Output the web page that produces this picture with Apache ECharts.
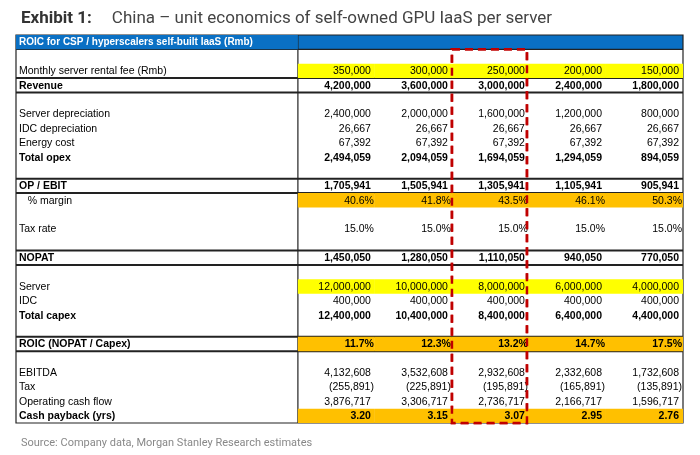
<!DOCTYPE html>
<html>
<head>
<meta charset="utf-8">
<script src="https://cdn.jsdelivr.net/npm/echarts@6/dist/echarts.min.js"></script>
<style>html,body{margin:0;padding:0;background:#fff}#chart{width:700px;height:455px}</style>
</head>
<body>
<div id="chart"></div>
<script>
// table data
var rowLabels = ['ROIC for CSP / hyperscalers self-built IaaS (Rmb)', '', 'Monthly server rental fee (Rmb)', 'Revenue', '',
  'Server depreciation', 'IDC depreciation', 'Energy cost', 'Total opex', '',
  'OP / EBIT', '   % margin', '', 'Tax rate', '', 'NOPAT', '',
  'Server', 'IDC', 'Total capex', '', 'ROIC (NOPAT / Capex)', '',
  'EBITDA', 'Tax', 'Operating cash flow', 'Cash payback (yrs)'];
var rentalFee = ['350,000', '300,000', '250,000', '200,000', '150,000'];
var revenue = ['4,200,000', '3,600,000', '3,000,000', '2,400,000', '1,800,000'];
var serverDep = ['2,400,000', '2,000,000', '1,600,000', '1,200,000', '800,000'];
var idcDep = ['26,667', '26,667', '26,667', '26,667', '26,667'];
var energy = ['67,392', '67,392', '67,392', '67,392', '67,392'];
var totalOpex = ['2,494,059', '2,094,059', '1,694,059', '1,294,059', '894,059'];
var opEbit = ['1,705,941', '1,505,941', '1,305,941', '1,105,941', '905,941'];
var margin = ['40.6%', '41.8%', '43.5%', '46.1%', '50.3%'];
var taxRate = ['15.0%', '15.0%', '15.0%', '15.0%', '15.0%'];
var nopat = ['1,450,050', '1,280,050', '1,110,050', '940,050', '770,050'];
var serverCapex = ['12,000,000', '10,000,000', '8,000,000', '6,000,000', '4,000,000'];
var idcCapex = ['400,000', '400,000', '400,000', '400,000', '400,000'];
var totalCapex = ['12,400,000', '10,400,000', '8,400,000', '6,400,000', '4,400,000'];
var roic = ['11.7%', '12.3%', '13.2%', '14.7%', '17.5%'];
var ebitda = ['4,132,608', '3,532,608', '2,932,608', '2,332,608', '1,732,608'];
var tax = ['(255,891)', '(225,891)', '(195,891)', '(165,891)', '(135,891)'];
var ocf = ['3,876,717', '3,306,717', '2,736,717', '2,166,717', '1,596,717'];
var payback = ['3.20', '3.15', '3.07', '2.95', '2.76'];

var rowValues = {2: rentalFee, 3: revenue, 5: serverDep, 6: idcDep, 7: energy, 8: totalOpex,
  10: opEbit, 11: margin, 13: taxRate, 15: nopat, 17: serverCapex, 18: idcCapex, 19: totalCapex,
  21: roic, 23: ebitda, 24: tax, 25: ocf, 26: payback};
var boldRows = [0, 3, 8, 10, 15, 19, 21, 26];
var yellowRows = [2, 17];
var orangeRows = [11, 21, 26];
var ruleRows = [3, 4, 10, 11, 15, 16, 21, 22]; // thick rule at top of these rows
var highlightCol = 2;

var labelSpan = 3.66;
var nRows = rowLabels.length;
var cells = [];
rowLabels.forEach(function (lab, r) {
  cells.push({value: [-labelSpan, r, 0], text: lab, label: true});
  if (rowValues[r]) {
    rowValues[r].forEach(function (v, c) {
      cells.push({value: [c, r, c + 1], text: v, label: false});
    });
  }
});

var chart = echarts.init(document.getElementById('chart'));
var font = '"Liberation Sans", Arial, sans-serif';

function cellItem(params, api) {
  var cell = cells[params.dataIndex];
  var r = cell.value[1];
  var p0 = api.coord([cell.value[0], r]);
  var p1 = api.coord([cell.value[2], r]);
  var h = api.size([0, 1])[1];
  var top = p0[1] - h / 2;
  var bold = boldRows.indexOf(r) >= 0;
  var children = [];
  var fill = null;
  if (r === 0) fill = cell.label ? '#0A70C4' : null;
  else if (!cell.label && yellowRows.indexOf(r) >= 0) fill = '#FFFF00';
  else if (!cell.label && orangeRows.indexOf(r) >= 0) fill = '#FFC000';
  if (fill) {
    children.push({type: 'rect', shape: {x: p0[0], y: top, width: p1[0] - p0[0], height: h}, style: {fill: fill}});
  }
  var pct = /%$|\)$/.test(cell.text);
  children.push({
    type: 'text',
    style: {
      text: cell.text,
      x: cell.label ? p0[0] + 3 : p1[0] - (pct ? 1 : 4),
      y: p0[1] + 0.5,
      align: cell.label ? 'left' : 'right',
      verticalAlign: 'middle',
      fill: r === 0 ? '#fff' : '#000',
      font: (bold ? 'bold ' : '') + (r === 0 ? '10px ' : '10.5px ') + font
    }
  });
  return {type: 'group', children: children};
}

function frameItem(params, api) {
  var h = api.size([0, 1])[1];
  var l = api.coord([-labelSpan, 0])[0];
  var rgt = api.coord([5, 0])[0];
  var mid = api.coord([0, 0])[0];
  var top = api.coord([0, 0])[1] - h / 2;
  var bottom = api.coord([0, nRows - 1])[1] + h / 2;
  var kids = [
    {type: 'rect', shape: {x: l, y: top, width: rgt - l, height: h}, style: {fill: '#0A70C4'}},
    {type: 'rect', shape: {x: l, y: top, width: rgt - l, height: bottom - top}, style: {fill: null, stroke: '#222', lineWidth: 1.2}},
    {type: 'line', shape: {x1: mid, y1: top, x2: mid, y2: bottom}, style: {stroke: '#222', lineWidth: 1.2}},
    {type: 'line', shape: {x1: l, y1: top + h, x2: rgt, y2: top + h}, style: {stroke: '#222', lineWidth: 1.2}}
  ];
  ruleRows.forEach(function (r) {
    var y = api.coord([0, r])[1] - h / 2;
    kids.push({type: 'line', shape: {x1: l, y1: y, x2: rgt, y2: y}, style: {stroke: '#222', lineWidth: 2}});
  });
  var x0 = api.coord([highlightCol, 0])[0];
  var x1 = api.coord([highlightCol + 1, 0])[0];
  kids.push({type: 'rect', shape: {x: x0, y: top + h, width: x1 - x0 - 2, height: bottom - top - h},
    style: {fill: null, stroke: '#C00000', lineWidth: 2.5, lineDash: [8, 5]}, z2: 10});
  return {type: 'group', children: kids};
}

chart.setOption({
  animation: false,
  title: [{
    text: '{b|Exhibit 1:}    {n|China – unit economics of self-owned GPU IaaS per server}',
    left: 16, top: 5,
    textStyle: {rich: {
      b: {fontFamily: 'Roboto', fontWeight: 'bold', fontSize: 17, color: '#333'},
      n: {fontFamily: 'Roboto', fontWeight: 'normal', fontSize: 17, color: '#444'}
    }}
  }, {
    text: 'Source: Company data, Morgan Stanley Research estimates',
    left: 16, top: 433,
    textStyle: {fontFamily: 'Roboto', fontWeight: 'normal', fontSize: 11, color: '#888'}
  }],
  grid: {left: 16, right: 17, top: 35, height: 388},
  xAxis: {type: 'value', min: -labelSpan, max: 5, show: false},
  yAxis: {type: 'category', inverse: true, data: rowLabels.map(function (d, i) { return i; }), show: false},
  series: [
    {type: 'custom', renderItem: frameItem, data: [[0, 0]], z: 1, silent: true},
    {type: 'custom', renderItem: cellItem, data: cells, z: 2, silent: true},
    {type: 'custom', renderItem: function (params, api) {
      var g = frameItem(params, api);
      return g.children[g.children.length - 1];
    }, data: [[0, 0]], z: 3, silent: true}
  ]
});
</script>
</body>
</html>
